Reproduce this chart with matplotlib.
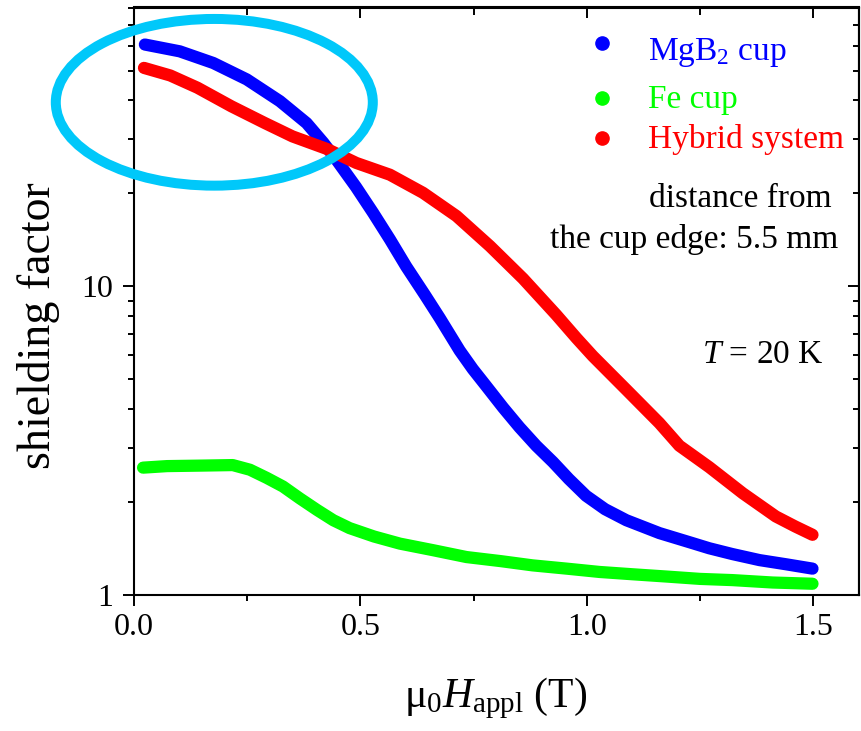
import matplotlib
matplotlib.use('Agg')
import matplotlib.pyplot as plt
from matplotlib.patches import Ellipse
from matplotlib.ticker import LogLocator, NullFormatter, FixedLocator, FixedFormatter

plt.rcParams['font.family'] = ['Liberation Serif', 'DejaVu Serif']
plt.rcParams['mathtext.fontset'] = 'custom'
plt.rcParams['mathtext.rm'] = 'Liberation Serif'
plt.rcParams['mathtext.it'] = 'Liberation Serif:italic'
plt.rcParams['mathtext.bf'] = 'Liberation Serif:bold'

# ---------------- data ----------------
mgb2_x = [0.024, 0.101, 0.175, 0.249, 0.322, 0.381, 0.418, 0.447, 0.490, 0.528,
          0.565, 0.601, 0.642, 0.675, 0.719, 0.748, 0.778, 0.815, 0.851, 0.888,
          0.925, 0.960, 0.998, 1.040, 1.087, 1.160, 1.230, 1.270, 1.321, 1.381,
          1.440, 1.498]
mgb2_y = [60.7, 57.7, 52.9, 46.8, 39.8, 33.8, 29.2, 25.7, 21.0, 17.3,
          14.2, 11.6, 9.4, 7.9, 6.2, 5.4, 4.75, 4.05, 3.50, 3.05,
          2.70, 2.38, 2.10, 1.90, 1.75, 1.59, 1.48, 1.42, 1.36, 1.30,
          1.26, 1.22]

fe_x = [0.020, 0.073, 0.150, 0.218, 0.256, 0.293, 0.329, 0.366, 0.404, 0.440,
        0.476, 0.530, 0.587, 0.660, 0.734, 0.810, 0.880, 0.955, 1.028, 1.100,
        1.176, 1.250, 1.321, 1.410, 1.498]
fe_y = [2.59, 2.62, 2.63, 2.64, 2.55, 2.40, 2.25, 2.06, 1.89, 1.75,
        1.65, 1.55, 1.47, 1.40, 1.33, 1.29, 1.25, 1.22, 1.19, 1.17,
        1.15, 1.13, 1.12, 1.10, 1.09]

hyb_x = [0.022, 0.080, 0.140, 0.215, 0.289, 0.350, 0.425, 0.491, 0.565, 0.638,
         0.712, 0.786, 0.859, 0.932, 0.977, 1.013, 1.087, 1.160, 1.204, 1.270,
         1.344, 1.417, 1.460, 1.498]
hyb_y = [51.0, 48.2, 44.0, 38.3, 33.8, 30.6, 27.9, 25.1, 23.0, 20.1,
         16.9, 13.5, 10.6, 8.1, 6.8, 5.95, 4.63, 3.61, 3.05, 2.60,
         2.14, 1.80, 1.67, 1.57]

series_labels = ['MgB$_2$ cup', 'Fe cup', 'Hybrid system']
series_colors = ['#0000FF', '#00FF00', '#FF0000']

x_ticks = [0.0, 0.5, 1.0, 1.5]
x_ticklabels = ['0.0', '0.5', '1.0', '1.5']
x_minor = [0.25, 0.75, 1.25]
y_ticks = [1, 10]
y_ticklabels = ['1', '10']

# ---------------- figure ----------------
W, H = 861, 731
fig = plt.figure(figsize=(W / 100, H / 100), dpi=100)
L, R, T, B = 134, 858.7, 7.5, 595.3
ax = fig.add_axes([L / W, 1 - B / H, (R - L) / W, (B - T) / H])

lw = 8.8
ax.plot(fe_x, fe_y, color=series_colors[1], lw=lw, solid_capstyle='round',
        solid_joinstyle='round', zorder=3)
ax.plot(mgb2_x, mgb2_y, color=series_colors[0], lw=lw, solid_capstyle='round',
        solid_joinstyle='round', zorder=3)
ax.plot(hyb_x, hyb_y, color=series_colors[2], lw=lw, solid_capstyle='round',
        solid_joinstyle='round', zorder=4)

ax.set_yscale('log')
ax.set_xlim(0, 1.6)
ax.set_ylim(1, 80)

ax.xaxis.set_major_locator(FixedLocator(x_ticks))
ax.xaxis.set_major_formatter(FixedFormatter(x_ticklabels))
ax.xaxis.set_minor_locator(FixedLocator(x_minor))
ax.yaxis.set_major_locator(FixedLocator(y_ticks))
ax.yaxis.set_major_formatter(FixedFormatter(y_ticklabels))
ax.yaxis.set_minor_locator(LogLocator(base=10, subs=range(2, 10)))
ax.yaxis.set_minor_formatter(NullFormatter())

for s in ax.spines.values():
    s.set_linewidth(1.5)
ax.tick_params(which='major', direction='out', length=8, width=1.4,
               labelsize=23, pad=5)
ax.tick_params(which='minor', direction='out', length=4.3, width=1.4)
ax.tick_params(axis='y', which='major', pad=7)

# mirrored inward ticks on top/right
secx = ax.secondary_xaxis('top')
secx.xaxis.set_major_locator(FixedLocator(x_ticks))
secx.xaxis.set_minor_locator(FixedLocator(x_minor))
secx.tick_params(which='major', direction='in', length=8, width=1.4, labeltop=False)
secx.tick_params(which='minor', direction='in', length=5.5, width=1.4)
secx.spines['top'].set_linewidth(1.5)
secy = ax.secondary_yaxis('right')
secy.yaxis.set_major_locator(FixedLocator(y_ticks))
secy.yaxis.set_minor_locator(LogLocator(base=10, subs=range(2, 10)))
secy.yaxis.set_minor_formatter(NullFormatter())
secy.tick_params(which='major', direction='in', length=8, width=1.4, labelright=False)
secy.tick_params(which='minor', direction='in', length=4.3, width=1.4)
secy.spines['right'].set_linewidth(1.5)

# axis labels
fig.text(39 / W, 1 - 326 / H, 'shielding factor', rotation=90,
         ha='center', va='center', fontsize=33)
fig.text(496 / W, 1 - 707 / H, r'$\mathrm{\mu}_0H_{\mathrm{appl}}$ (T)',
         ha='center', va='baseline', fontsize=30)

# legend (manual)
def ax_xy(px, py):
    return (px - L) / (R - L), (B - py) / (B - T)

mark_y = [43.3, 97.7, 138.3]
text_base = [60, 108, 148]
for lab, col, my, ty in zip(series_labels, series_colors, mark_y, text_base):
    mx, mfy = ax_xy(602, my)
    ax.plot([mx], [mfy], 'o', color=col, ms=9.5, transform=ax.transAxes,
            clip_on=False, zorder=5)
    tx, tfy = ax_xy(648, ty)
    ax.text(tx, tfy, lab, color=col, fontsize=24, transform=ax.transAxes,
            ha='left', va='baseline')

tx, ty = ax_xy(832, 207)
ax.text(tx, ty, 'distance from', fontsize=24, transform=ax.transAxes,
        ha='right', va='baseline')
tx, ty = ax_xy(838, 248)
ax.text(tx, ty, 'the cup edge: 5.5 mm', fontsize=24, transform=ax.transAxes,
        ha='right', va='baseline')
tx, ty = ax_xy(702, 363)
ax.text(tx, ty, r'$T$ = 20 K', fontsize=24, transform=ax.transAxes,
        ha='left', va='baseline')

# cyan highlight ellipse
ell = Ellipse((214.3 / W, 1 - 102.3 / H), 317 / W, 166.7 / H,
              transform=fig.transFigure, fill=False, edgecolor='#00C8FA',
              lw=7.2, zorder=10)
fig.add_artist(ell)

fig.savefig('out.png', dpi=100)
